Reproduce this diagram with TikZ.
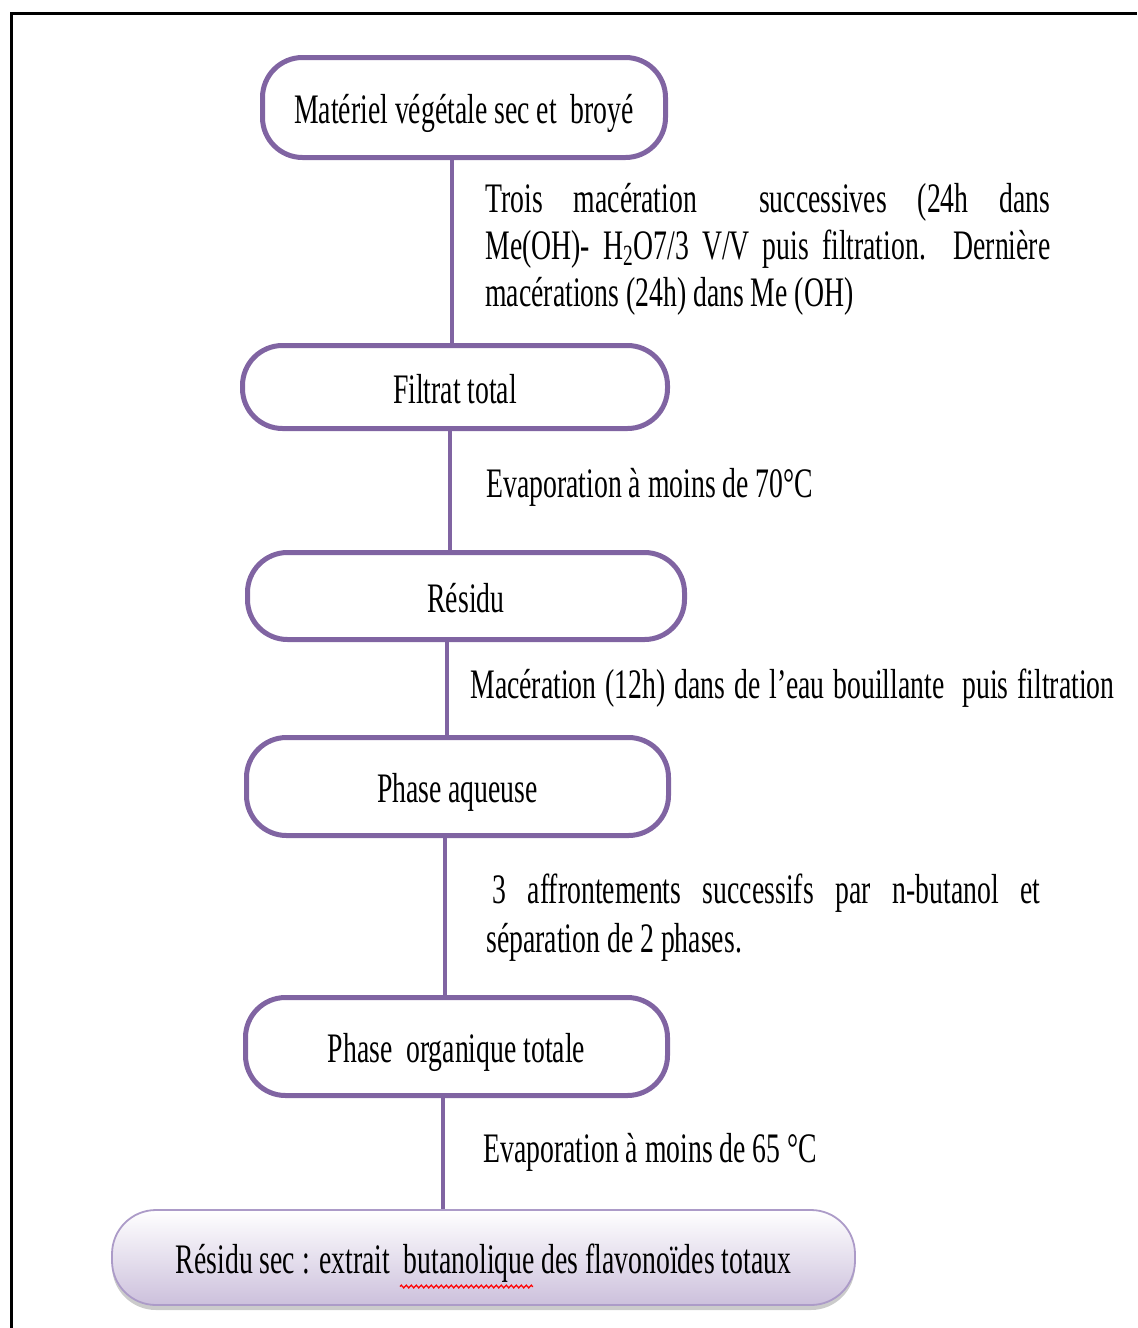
\documentclass[tikz,border=0pt]{standalone}
\usepackage{fontspec}
\setmainfont[FakeStretch=0.66]{Liberation Serif}
\usetikzlibrary{shadows,decorations.pathmorphing}
\definecolor{boxpurple}{HTML}{8064A2}
\definecolor{resborder}{RGB}{172,155,200}
\definecolor{resbottom}{RGB}{204,192,220}
\begin{document}
\begin{tikzpicture}[x=0.5pt,y=-0.5pt,
  font=\fontsize{21}{23.75}\selectfont,
  stepbox/.style={draw=boxpurple, line width=2.5pt, rounded corners=20pt, fill=white, inner sep=0pt, align=center, text height=17pt, text depth=1pt},
  resultbox/.style={draw=resborder, line width=0.9pt, rounded corners=22pt, top color=white, bottom color=resbottom, inner sep=0pt, align=center, text height=17pt, text depth=1pt,
     drop shadow={shadow xshift=0pt, shadow yshift=-2.5pt, fill=black!45, opacity=0.45}},
  link/.style={draw=boxpurple, line width=1.8pt},
  note/.style={anchor=base west, inner sep=0pt},
  frame/.style={draw=black, line width=1.5pt}]
\useasboundingbox (0,0) rectangle (1137,1328);
\coordinate (fa) at (11,1328);
\coordinate (fb) at (11,13);
\coordinate (fc) at (1137,13);
\draw[frame] (fa) -- (fb) -- (fc);

\node[stepbox, minimum width=201.5pt, minimum height=50pt] (b1) at (464,107.5) {Matériel végétale sec et\ \ broyé};
\node[stepbox, minimum width=212.5pt, minimum height=41.5pt] (b2) at (455,387) {Filtrat total};
\node[stepbox, minimum width=218.5pt, minimum height=43.5pt] (b3) at (466,596) {Résidu};
\node[stepbox, minimum width=211pt, minimum height=49pt] (b4) at (457.5,786.5) {Phase aqueuse};
\node[stepbox, minimum width=211pt, minimum height=49pt] (b5) at (456.5,1046.5) {Phase\ \ organique totale};
\node[resultbox, minimum width=371.5pt, minimum height=47.5pt] (b6) at (483.5,1257.5) {Résidu sec : extrait\ \ butanolique des flavonoïdes totaux};
\draw[red, line width=0.6pt, decorate, decoration={zigzag, segment length=2.5pt, amplitude=0.7pt}]
  ([xshift=-41.75pt,yshift=-14.5pt]b6.center) -- ([xshift=24.75pt,yshift=-14.5pt]b6.center);

\coordinate (l1) at (452,0);
\coordinate (l2) at (450,0);
\coordinate (l3) at (447,0);
\coordinate (l4) at (445,0);
\coordinate (l5) at (443,0);
\draw[link] (b1.south -| l1) -- (b2.north -| l1);
\draw[link] (b2.south -| l2) -- (b3.north -| l2);
\draw[link] (b3.south -| l3) -- (b4.north -| l3);
\draw[link] (b4.south -| l4) -- (b5.north -| l4);
\draw[link] (b5.south -| l5) -- (b6.north -| l5);

\node[note] (t1a) at (485,212) {\makebox[282.5pt][s]{Trois macération\ \ successives (24h dans}};
\node[note] (t1b) at (485,259) {\makebox[282.5pt][s]{Me(OH)- H\textsubscript{2}O7/3 V/V puis filtration. Dernière}};
\node[note] (t1c) at (485,306) {macérations (24h) dans Me (OH)};
\node[note] (t2) at (486,497) {Evaporation à moins de 70°C};
\node[note] (t3) at (470,698) {\makebox[322pt][s]{Macération (12h) dans de l’eau bouillante\ \ puis filtration}};
\node[note] (t4a) at (492,903) {\makebox[274pt][s]{3 affrontements successifs par n-butanol et}};
\node[note] (t4b) at (486,952) {séparation de 2 phases.};
\node[note] (t5) at (483,1162) {Evaporation à moins de 65 °C};
\end{tikzpicture}
\end{document}
